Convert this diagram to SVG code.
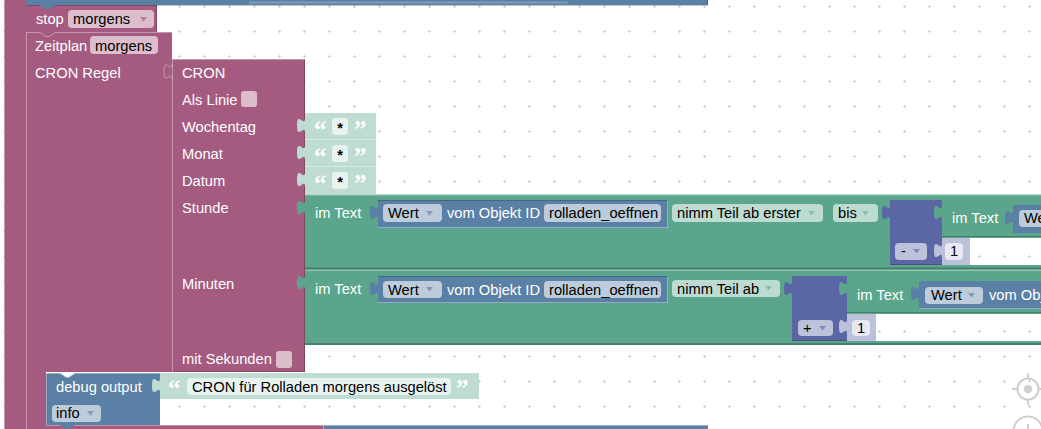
<svg xmlns="http://www.w3.org/2000/svg" width="1041" height="429" viewBox="0 0 1041 429">
<defs>
<pattern id="grid" patternUnits="userSpaceOnUse" x="0" y="0" width="25" height="25">
<rect width="25" height="25" fill="#fff"/>
<path d="M3,6.5 h3 M4.5,5 v3" stroke="#d2d2d2" stroke-width="1"/>
</pattern>
<path id="tab" d="M0,0 c0,10 -8,-8 -8,7.5 s8,-2.5 8,7.5 z"/>
<path id="arr" d="M0,0 h7 l-3.5,4.5 z"/>
</defs>
<style>
text{font-family:"Liberation Sans",Arial,sans-serif;font-size:14.7px}
.w{fill:#fff}
.k{fill:#000}
.mag{fill:#a55b80}
.blu{fill:#5b80a5}
.grn{fill:#5ba58c}
.pur{fill:#5b67a5}
.sgr{fill:#bfdcd2}
.spu{fill:#bcc1db}
.fm{fill:#dbbdcc}
.fb{fill:#bdccdb}
.fg{fill:#bddbd1}
.fp{fill:#bdc2db}
.fs{fill:#e8f2ee}
.fn{fill:#e8e9f3}
.am{fill:#b27c97}
.ab{fill:#7f9cba}
.ag{fill:#8abfad}
.ap{fill:#7f88bd}
.hl{fill:none;stroke:#fff;stroke-opacity:.35}
.sh{fill:none;stroke:#000;stroke-opacity:.22}
.q{font-family:"Liberation Serif","Times New Roman",serif;font-size:25px;font-weight:bold;fill:#fff}
.ast{font-weight:bold;text-anchor:middle}
.grid{fill:url(#grid)}
.ico{fill:none;stroke:#cfcfcf;stroke-width:2}
</style>
<rect width="1041" height="429" class="grid"/>

<g id="outer-block">
<rect x="4" y="-2" width="22" height="433" class="mag"/>
<path d="M4.5,0 V429" class="hl"/>
</g>

<g id="zeitplan">
<path d="M26,32 H172 V372 H46 V425 H323 V432 H26 Z" class="mag"/>
<path d="M26.5,32 V429 M46.5,373 V425 M46,425.5 H323" class="hl"/>
<text x="35" y="51" class="w">Zeitplan</text>
<rect x="90" y="36" width="68" height="18" rx="4" class="fm"/>
<text x="95" y="51" class="k">morgens</text>
<text x="35" y="78" class="w">CRON Regel</text>
</g>

<g id="stop">
<rect x="26" y="5" width="131" height="27" class="mag"/>
<path d="M40,32 L46,36 H49 L55,32 Z" class="mag"/>
<path d="M26.5,32.5 H40 L46,36.5 H49 L55,32.5 H172" class="hl"/>
<path d="M156.5,5 V32" class="sh"/>
<text x="36" y="24" class="w">stop</text>
<rect x="68" y="10" width="86" height="18" rx="4" class="fm"/>
<text x="73" y="24" class="k">morgens</text>
<use href="#arr" x="140" y="17" class="am"/>
</g>

<g id="top-block">
<path d="M26,-6 H708 V5 H55 L49,9 H46 L40,5 H26 Z" class="blu"/>
<path d="M249,2.5 H568" stroke="#7f9dbb" stroke-width="2"/>
<path d="M26,5.5 H40 M55,5.5 H708 M707.5,-6 V5" class="sh"/>
</g>

<g id="cron">
<rect x="172" y="59" width="133" height="313" class="mag"/>
<use href="#tab" x="172" y="64" class="mag"/>
<path d="M172,64 c0,10 -8,-8 -8,7.5 s8,-2.5 8,7.5" class="hl"/>
<path d="M172.5,59 V372 M172,59.5 H305" class="hl"/>
<path d="M172,371.5 H305 M304.5,59 V372" class="sh"/>
<text x="182" y="78" class="w">CRON</text>
<text x="182" y="105" class="w">Als Linie</text>
<rect x="241" y="91" width="16" height="16" rx="3" class="fm"/>
<text x="182" y="132" class="w">Wochentag</text>
<text x="182" y="159" class="w">Monat</text>
<text x="182" y="186" class="w">Datum</text>
<text x="182" y="213" class="w">Stunde</text>
<text x="182" y="289" class="w">Minuten</text>
<text x="182" y="364" class="w">mit Sekunden</text>
<rect x="276" y="351" width="16" height="17" rx="3" class="fm"/>
</g>

<g id="text-wochentag">
<rect x="305" y="113" width="71" height="27" class="sgr"/>
<use href="#tab" x="305" y="118" class="sgr"/>
<path d="M305,139.5 H376" class="hl"/>
<text x="314" y="138" class="q">“</text>
<rect x="332" y="118" width="16" height="17" rx="3" class="fs"/>
<text x="340" y="133" class="k ast">*</text>
<text x="354" y="138" class="q">”</text>
</g>

<g id="text-monat">
<rect x="305" y="140" width="71" height="27" class="sgr"/>
<use href="#tab" x="305" y="145" class="sgr"/>
<path d="M305,166.5 H376" class="hl"/>
<text x="314" y="165" class="q">“</text>
<rect x="332" y="145" width="16" height="17" rx="3" class="fs"/>
<text x="340" y="160" class="k ast">*</text>
<text x="354" y="165" class="q">”</text>
</g>

<g id="text-datum">
<rect x="305" y="167" width="71" height="27" class="sgr"/>
<use href="#tab" x="305" y="172" class="sgr"/>
<text x="314" y="192" class="q">“</text>
<rect x="332" y="172" width="16" height="17" rx="3" class="fs"/>
<text x="340" y="187" class="k ast">*</text>
<text x="354" y="192" class="q">”</text>
</g>

<g id="stunde">
<rect x="305" y="194.5" width="740" height="75" class="grn"/>
<use href="#tab" x="305" y="200" class="grn"/>
<path d="M305,195 H1041" class="hl"/>
<path d="M305,268.5 H1041" stroke="#467f6b" stroke-width="2"/>
<text x="315" y="218" class="w">im Text</text>
<g id="stunde-wert">
<rect x="378" y="200" width="290" height="28" class="blu"/>
<use href="#tab" x="378" y="205" class="blu"/>
<path d="M378,227.5 H668 M667.5,200 V228" class="hl"/>
<path d="M378,200.5 H668" class="sh"/>
<rect x="383" y="204" width="59" height="18" rx="4" class="fb"/>
<text x="388" y="218" class="k">Wert</text>
<use href="#arr" x="426" y="211" class="ab"/>
<text x="447" y="218" class="w">vom Objekt ID</text>
<rect x="544" y="204" width="117" height="18" rx="4" class="fb"/>
<text x="549" y="218" class="k">rolladen_oeffnen</text>
</g>
<rect x="672" y="204" width="151" height="18" rx="4" class="fg"/>
<text x="677" y="218" class="k">nimm Teil ab erster</text>
<use href="#arr" x="808" y="211" class="ag"/>
<rect x="833" y="204" width="45" height="18" rx="4" class="fg"/>
<text x="838" y="218" class="k">bis</text>
<use href="#arr" x="862" y="211" class="ag"/>
<g id="stunde-minus">
<rect x="890" y="200" width="52" height="65" class="pur"/>
<use href="#tab" x="890" y="205" class="pur"/>
<path d="M890,264.5 H942" class="sh"/>
<rect x="895" y="243" width="32" height="17" rx="4" class="fp"/>
<text x="901" y="256" class="k">-</text>
<use href="#arr" x="913" y="249" class="ap"/>
<rect x="970" y="238" width="71" height="27" class="grid"/>
<g id="stunde-eins">
<rect x="942" y="238" width="28" height="27" class="spu"/>
<use href="#tab" x="942" y="243" class="spu"/>
<rect x="945" y="243" width="18" height="17" rx="4" class="fn"/>
<text x="950" y="256" class="k">1</text>
</g>
<g id="stunde-imtext">
<rect x="942" y="200" width="103" height="37" class="grn"/>
<use href="#tab" x="942" y="205" class="grn"/>
<path d="M942,236.5 H1041" stroke="#467f6b"/>
<text x="952" y="223" class="w">im Text</text>
<rect x="1013" y="205" width="32" height="28" class="blu"/>
<use href="#tab" x="1013" y="210" class="blu"/>
<rect x="1019" y="210" width="58" height="17" rx="4" class="fb"/>
<text x="1024" y="223" class="k">Wert</text>
</g>
</g>
</g>

<g id="minuten">
<rect x="305" y="269.5" width="740" height="75.5" class="grn"/>
<use href="#tab" x="305" y="275" class="grn"/>
<path d="M305,270.5 H1041" class="hl"/>
<path d="M305,344 H1041" stroke="#467f6b" stroke-width="2"/>
<text x="315" y="294" class="w">im Text</text>
<g id="minuten-wert">
<rect x="378" y="276" width="290" height="27" class="blu"/>
<use href="#tab" x="378" y="281" class="blu"/>
<path d="M378,302.5 H668 M667.5,276 V303" class="hl"/>
<path d="M378,276.5 H668" class="sh"/>
<rect x="383" y="281" width="59" height="17" rx="4" class="fb"/>
<text x="388" y="295" class="k">Wert</text>
<use href="#arr" x="426" y="287" class="ab"/>
<text x="447" y="295" class="w">vom Objekt ID</text>
<rect x="544" y="281" width="117" height="17" rx="4" class="fb"/>
<text x="549" y="295" class="k">rolladen_oeffnen</text>
</g>
<rect x="672" y="280" width="108" height="17" rx="4" class="fg"/>
<text x="677" y="294" class="k">nimm Teil ab</text>
<use href="#arr" x="765" y="286" class="ag"/>
<g id="minuten-plus">
<rect x="792" y="276" width="55" height="65" class="pur"/>
<use href="#tab" x="792" y="281" class="pur"/>
<path d="M792,340.5 H847" class="sh"/>
<rect x="798" y="320" width="35" height="16" rx="4" class="fp"/>
<text x="803" y="333" class="k">+</text>
<use href="#arr" x="819" y="326" class="ap"/>
<rect x="876" y="314" width="165" height="27" class="grid"/>
<g id="minuten-eins">
<rect x="847" y="314" width="29" height="27" class="spu"/>
<use href="#tab" x="847" y="319" class="spu"/>
<rect x="852" y="320" width="18" height="16" rx="4" class="fn"/>
<text x="857" y="333" class="k">1</text>
</g>
<g id="minuten-imtext">
<rect x="847" y="276" width="198" height="37" class="grn"/>
<use href="#tab" x="847" y="281" class="grn"/>
<path d="M847,312.5 H1041" stroke="#467f6b"/>
<text x="857" y="300" class="w">im Text</text>
<rect x="919" y="281" width="126" height="28" class="blu"/>
<use href="#tab" x="919" y="286" class="blu"/>
<path d="M919,308.5 H1041" class="hl"/>
<rect x="925" y="287" width="58" height="17" rx="4" class="fb"/>
<text x="931" y="300" class="k">Wert</text>
<use href="#arr" x="968" y="293" class="ab"/>
<text x="989" y="300" class="w">vom Objekt ID</text>
</g>
</g>
</g>

<g id="debug">
<path d="M46,373 H60 L66,377 H69 L75,373 H160 V425 H75 L69,429 H66 L60,425 H46 Z" class="blu"/>
<path d="M46.5,373 V425 M46,373.5 H60 L66,377.5 H69 L75,373.5 H160" class="hl"/>
<text x="56" y="392" class="w">debug output</text>
<rect x="52" y="405" width="49" height="17" rx="4" class="fb"/>
<text x="56" y="418" class="k">info</text>
<use href="#arr" x="87" y="411" class="ab"/>
</g>

<g id="debug-text">
<rect x="160" y="373" width="319" height="26" class="sgr"/>
<use href="#tab" x="160" y="378" class="sgr"/>
<text x="168" y="397" class="q">“</text>
<rect x="187" y="378" width="264" height="17" rx="4" class="fs"/>
<text x="192" y="392" class="k">CRON für Rolladen morgens ausgelöst</text>
<text x="456" y="397" class="q">”</text>
</g>

<g id="next-block">
<rect x="323" y="425" width="385" height="8" class="blu"/>
<path d="M323.5,425 V429 M323,425.5 H708" class="hl"/>
</g>

<g id="connectors"></g>

<g id="workspace-controls">
<circle cx="1028" cy="389" r="10.5" class="ico"/>
<circle cx="1028" cy="389" r="4.3" fill="#cfcfcf"/>
<path d="M1028,373 V378 M1028,400 V405 M1012,389 H1017 M1039,389 H1044" class="ico"/>
<circle cx="1028" cy="431" r="14.5" class="ico"/>
<path d="M1028,424 V429" class="ico"/>
</g>
</svg>
